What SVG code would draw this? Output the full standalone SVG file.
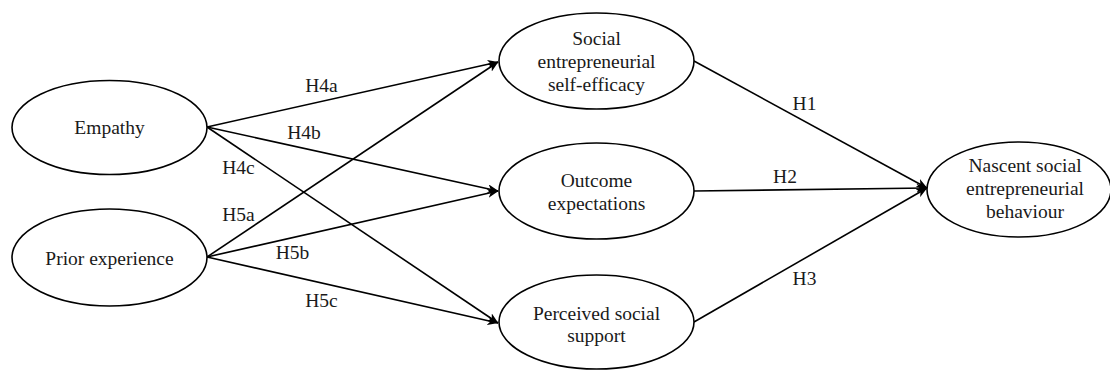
<svg xmlns="http://www.w3.org/2000/svg" width="1110" height="370" viewBox="0 0 1110 370">
  <style>
    .node ellipse { fill: #ffffff; stroke: #000000; stroke-width: 1.6; }
    .node text, .lbl { font-family: "Liberation Serif", "Times New Roman", serif; font-size: 19.5px; fill: #1a1a1a; text-anchor: middle; }
    .edge { stroke: #000000; stroke-width: 1.6; fill: none; marker-end: url(#arrow); }
  </style>
  <defs>
    <marker id="arrow" viewBox="0 0 11 9" markerWidth="11" markerHeight="9" refX="10.5" refY="4.5" orient="auto" markerUnits="userSpaceOnUse">
      <path d="M0,0 L11,4.5 L0,9 L3,4.5 Z" fill="#000000"/>
    </marker>
  </defs>

  <rect width="1110" height="370" fill="#ffffff"/>

  <!-- connectors -->
  <g id="connectors">
    <line class="edge" x1="207" y1="127" x2="498" y2="62"/>
    <line class="edge" x1="207" y1="127" x2="498" y2="191"/>
    <line class="edge" x1="207" y1="127" x2="498" y2="323"/>
    <line class="edge" x1="207" y1="257" x2="498" y2="62"/>
    <line class="edge" x1="207" y1="257" x2="498" y2="191"/>
    <line class="edge" x1="207" y1="257" x2="498" y2="323"/>
    <line class="edge" x1="694" y1="61" x2="927" y2="188"/>
    <line class="edge" x1="694" y1="191" x2="927" y2="188"/>
    <line class="edge" x1="694" y1="322" x2="927" y2="188"/>

    <text class="lbl" x="321.5" y="92">H4a</text>
    <text class="lbl" x="304" y="139">H4b</text>
    <text class="lbl" x="238.5" y="174">H4c</text>
    <text class="lbl" x="238.5" y="221">H5a</text>
    <text class="lbl" x="292.5" y="259">H5b</text>
    <text class="lbl" x="321.5" y="307">H5c</text>
    <text class="lbl" x="804.5" y="110">H1</text>
    <text class="lbl" x="785" y="183">H2</text>
    <text class="lbl" x="804.5" y="285">H3</text>
  </g>

  <!-- nodes -->
  <g id="empathy" class="node">
    <ellipse cx="109.5" cy="127.5" rx="97.5" ry="47"/>
    <text x="109.5" y="134">Empathy</text>
  </g>
  <g id="prior-experience" class="node">
    <ellipse cx="109.5" cy="257.5" rx="97.5" ry="48.5"/>
    <text x="109.5" y="264.5">Prior experience</text>
  </g>
  <g id="self-efficacy" class="node">
    <ellipse cx="596.5" cy="61" rx="97.5" ry="48"/>
    <text x="596.5" y="45">Social</text>
    <text x="596.5" y="68">entrepreneurial</text>
    <text x="596.5" y="91">self-efficacy</text>
  </g>
  <g id="outcome-expectations" class="node">
    <ellipse cx="596.5" cy="191" rx="97.5" ry="48"/>
    <text x="596.5" y="186.5">Outcome</text>
    <text x="596.5" y="210">expectations</text>
  </g>
  <g id="social-support" class="node">
    <ellipse cx="596.5" cy="322" rx="97.5" ry="47"/>
    <text x="596.5" y="320">Perceived social</text>
    <text x="596.5" y="342">support</text>
  </g>
  <g id="nascent-behaviour" class="node">
    <ellipse cx="1019" cy="189.5" rx="92" ry="47.5"/>
    <text x="1025" y="172">Nascent social</text>
    <text x="1025" y="195">entrepreneurial</text>
    <text x="1025" y="218">behaviour</text>
  </g>
</svg>
